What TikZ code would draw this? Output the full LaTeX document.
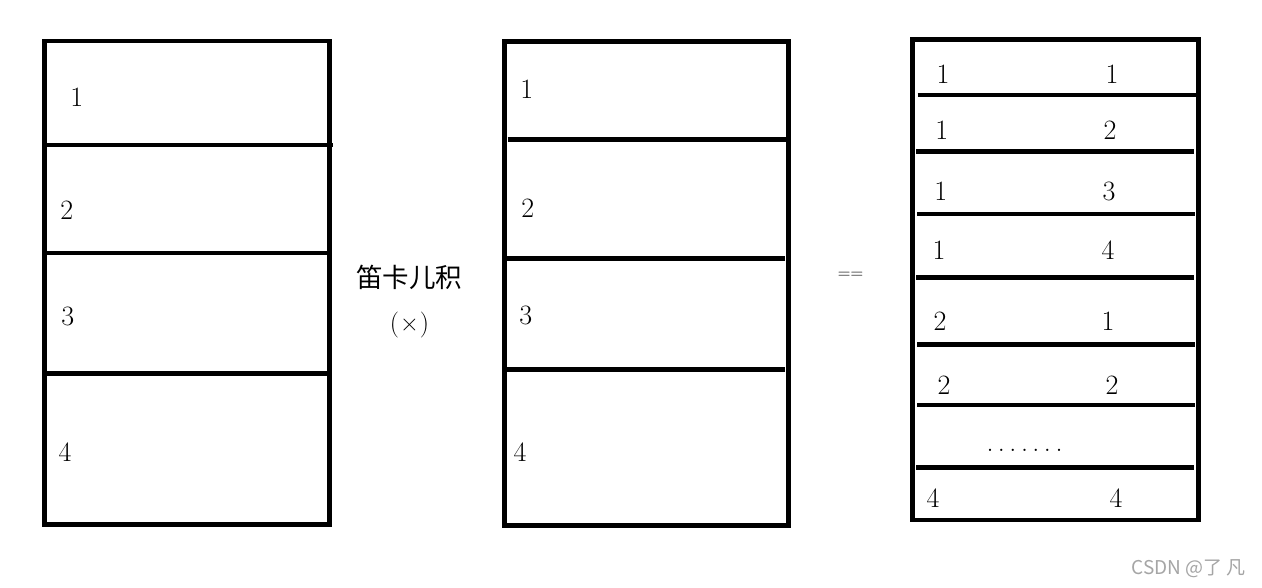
\documentclass[tikz,border=0pt]{standalone}
\usepackage{fontspec}
\newfontfamily\cjk{Noto Sans CJK SC}
\definecolor{wmgray}{RGB}{165,165,165}
\begin{document}
\begin{tikzpicture}[x=1pt,y=-1pt,
  frame/.style={line width=4.8pt},
  divline/.style={line width=4.6pt},
  num/.style={inner sep=0pt,font=\fontsize{28}{32}\selectfont},
  hz/.style={inner sep=0pt,font=\cjk\fontsize{26.5}{30}\selectfont},
]
\useasboundingbox[fill=white] (0,0) rectangle (1262,587);
% box 1
\draw[frame] (44.5,41) rectangle (329.5,524.5);
\draw[divline] (44.5,145) -- (333,145);
\draw[divline] (44.5,253) -- (327,253);
\draw[divline] (44.5,373.5) -- (329.5,373.5);
\node[num] (a1) at (76.7,97.7) {1};
\node[num] (a2) at (66.7,210) {2};
\node[num] (a3) at (67.7,316.7) {3};
\node[num] (a4) at (65,451.7) {4};
% box 2
\draw[frame] (504.5,41.5) rectangle (788.5,525.5);
\draw[divline] (507.7,139.5) -- (788.5,139.5);
\draw[divline] (504.5,258.3) -- (785,258.3);
\draw[divline] (504.5,369.5) -- (785,369.5);
\node[num] (b1) at (526.7,89.3) {1};
\node[num] (b2) at (527.7,208.3) {2};
\node[num] (b3) at (525.7,315) {3};
\node[num] (b4) at (520,451.7) {4};
% middle labels
\node[hz] (cart) at (409,277) {笛卡儿积};
\node[inner sep=0pt,font=\fontsize{26}{30}\selectfont] (times) at (409.5,325) {(\kern1pt×\kern1pt)};
\node[inner sep=0pt,font=\fontsize{17.5}{20}\selectfont] (eq) at (850.5,275.5) {==};
% box 3
\draw[frame] (912.3,39.2) rectangle (1198.3,520);
\draw[divline] (917.7,95) -- (1198.3,95);
\draw[divline] (916,151.3) -- (1193.7,151.3);
\draw[divline] (917,214) -- (1195,214);
\draw[divline] (916,277.3) -- (1194,277.3);
\draw[divline] (917,344.3) -- (1195,344.3);
\draw[divline] (917,405) -- (1195,405);
\draw[divline] (916,467.3) -- (1194,467.3);
\node[num] (c1l) at (943,74) {1};
\node[num] (c1r) at (1112,74) {1};
\node[num] (c2l) at (941.7,130) {1};
\node[num] (c2r) at (1110,130) {2};
\node[num] (c3l) at (940.7,191) {1};
\node[num] (c3r) at (1109,191) {3};
\node[num] (c4l) at (939,250) {1};
\node[num] (c4r) at (1108,250) {4};
\node[num] (c5l) at (940,321) {2};
\node[num] (c5r) at (1108,321) {1};
\node[num] (c6l) at (944,385.7) {2};
\node[num] (c6r) at (1112,385.7) {2};
\node[num,anchor=base] (dots) at (1024.5,451) {.\hspace{4.5pt}.\hspace{4.5pt}.\hspace{4.5pt}.\hspace{4.5pt}.\hspace{4.5pt}.\hspace{4.5pt}.};
\node[num] (c7l) at (933,497.7) {4};
\node[num] (c7r) at (1116,497.7) {4};
% watermark
\node[inner sep=0pt,text=wmgray,font=\cjk\fontsize{19}{22}\selectfont] (wm) at (1188.5,569) {CSDN @了 凡};
\end{tikzpicture}
\end{document}
